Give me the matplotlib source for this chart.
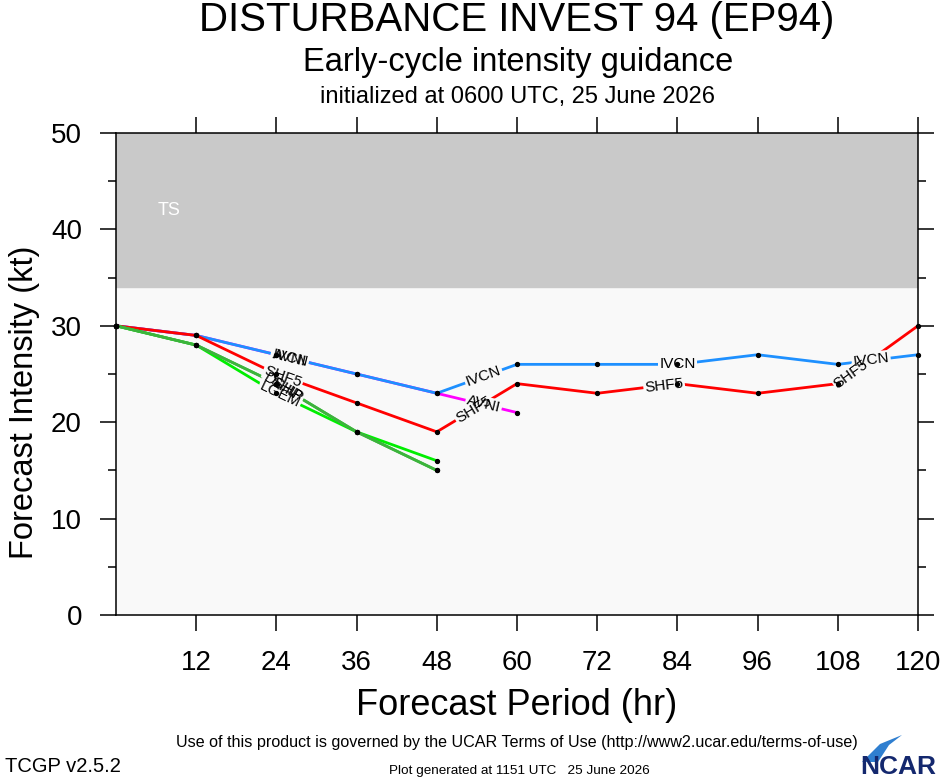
import numpy as np
import matplotlib
matplotlib.use('Agg')
import matplotlib.pyplot as plt
from matplotlib.patches import Polygon

plt.rcParams['font.family'] = ['Liberation Sans', 'DejaVu Sans']

# forecast hours and model intensities (kt)
hours = [0, 12, 24, 36, 48, 60, 72, 84, 96, 108, 120]
ivcn = [30, 29, 27, 25, 23, 26, 26, 26, 27, 26, 27]
avni = [30, 29, 27, 25, 23, 21]
shf5 = [30, 29, 25, 22, 19, 24, 23, 24, 23, 24, 30]
ship = [30, 28, 24, 19, 15]
dshp = [30, 28, 24, 19, 15]
lgem = [30, 28, 23, 19, 16]

x_ticks = [12, 24, 36, 48, 60, 72, 84, 96, 108, 120]
y_ticks = [0, 10, 20, 30, 40, 50]

# name, values, colour, where the name goes along the line
models = [
    ('AVNI', avni, '#FF00FF', [26, 55]),
    ('IVCN', ivcn, '#1E90FF', [26, 55, 84, 113]),
    ('SHF5', shf5, '#FF0000', [25, 53.5, 82, 110]),
    ('LGEM', lgem, '#00EE00', [24.5]),
    ('SHIP', ship, '#3CB43C', [25.5]),
    ('DSHP', dshp, '#3CB43C', [25]),
]

W, H = 940, 780
fig = plt.figure(figsize=(W / 100, H / 100), dpi=100)
ax = fig.add_axes([116 / W, 165 / H, 802 / W, 482 / H])
ax.set_xlim(0, 120)
ax.set_ylim(0, 50)
ax.set_facecolor('#f9f9f9')
ax.axhspan(34, 50, color='#c9c9c9', zorder=0)
ax.text(8, 42, 'TS', color='white', fontsize=13, ha='center', va='center')

bg = '#f9f9f9'
for name, vals, col, labx in models:
    hrs = hours[:len(vals)]
    ax.plot(hrs, vals, color=col, lw=2.0, zorder=3, solid_capstyle='butt')

# px per unit for the label rotation
px_x = 802 / 120
px_y = 482 / 50


def label_spots(vals, labx):
    hrs = np.array(hours[:len(vals)])
    v = np.array(vals)
    out = []
    for lx in labx:
        ly = np.interp(lx, hrs, v)
        i = max(min(np.searchsorted(hrs, lx), len(hrs) - 1), 1)
        ang = np.degrees(np.arctan2((v[i] - v[i - 1]) * px_y, (hrs[i] - hrs[i - 1]) * px_x))
        out.append((lx, ly, ang))
    return out


for name, vals, col, labx in models:
    for lx, ly, ang in label_spots(vals, labx):
        ax.text(lx, ly, name, color=(0, 0, 0, 0), fontsize=11, ha='center', va='center',
                rotation=ang, rotation_mode='anchor', zorder=4,
                bbox=dict(facecolor=bg, edgecolor='none', pad=1.0))
for name, vals, col, labx in models:
    for lx, ly, ang in label_spots(vals, labx):
        ax.text(lx, ly, name, color='black', fontsize=11, ha='center', va='center',
                rotation=ang, rotation_mode='anchor', zorder=5)
for name, vals, col, labx in models:
    hrs = hours[:len(vals)]
    ax.plot(hrs, vals, 'o', color='black', ms=2.8, zorder=6, clip_on=False)

ax.set_xticks(x_ticks)
ax.set_xticklabels([str(t) for t in x_ticks])
ax.set_yticks(y_ticks)
ax.set_yticks([5, 15, 25, 35, 45], minor=True)
ax.tick_params(axis='both', which='major', direction='out', length=11.5, width=1.1,
               top=True, right=True, labelsize=20)
ax.tick_params(axis='y', which='minor', direction='out', length=6, width=1.1, right=True)
ax.tick_params(axis='x', which='major', pad=14)
ax.tick_params(axis='y', which='major', pad=13)
for s in ax.spines.values():
    s.set_linewidth(1.1)

ax.set_xlabel('Forecast Period (hr)', fontsize=26, labelpad=8)
fig.text(25 / W, 1 - 402 / H, 'Forecast Intensity (kt)', fontsize=23.5, rotation=90,
         ha='center', va='center')

fig.text(517 / W, 1 - 20 / H, 'DISTURBANCE INVEST 94 (EP94)', fontsize=29,
         ha='center', va='center')
fig.text(518 / W, 1 - 62 / H, 'Early-cycle intensity guidance', fontsize=23.5,
         ha='center', va='center')
fig.text(517 / W, 1 - 97 / H, 'initialized at 0600 UTC, 25 June 2026', fontsize=17,
         ha='center', va='center')
fig.text(517 / W, 1 - 742 / H,
         'Use of this product is governed by the UCAR Terms of Use (http://www2.ucar.edu/terms-of-use)',
         fontsize=11.6, ha='center', va='center')
fig.text(5 / W, 1 - 767 / H, 'TCGP v2.5.2', fontsize=14.5, ha='left', va='center')
fig.text(519 / W, 1 - 771 / H, 'Plot generated at 1151 UTC   25 June 2026', fontsize=9.7,
         ha='center', va='center')

# NCAR mark
fig.text(936 / W, 1 - 767 / H, 'NCAR', fontsize=19, fontweight='bold', color='#14286e',
         ha='right', va='center')
sw = Polygon([[862 / W, 1 - 762 / H], [880 / W, 1 - 744 / H], [902 / W, 1 - 735 / H],
              [889 / W, 1 - 745 / H], [878 / W, 1 - 762 / H]],
             closed=True, transform=fig.transFigure, facecolor='#2f7fd0', edgecolor='none')
fig.patches.append(sw)

fig.savefig('out.png', dpi=100)
